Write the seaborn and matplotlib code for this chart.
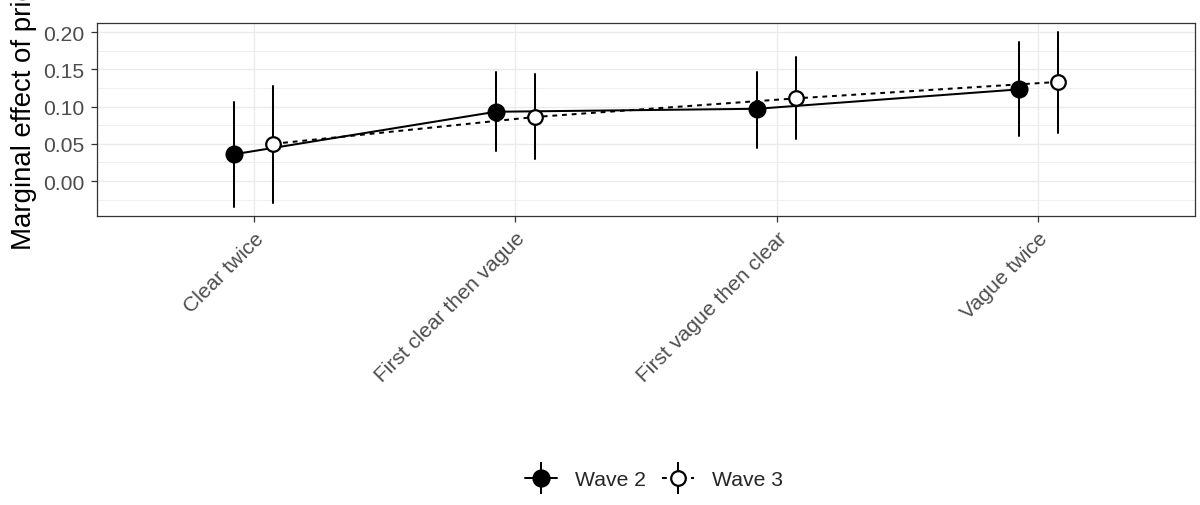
import numpy as np
import pandas as pd
import matplotlib
matplotlib.use("Agg")
import matplotlib.pyplot as plt
import seaborn as sns
from matplotlib.ticker import MultipleLocator
from matplotlib.lines import Line2D
from matplotlib.collections import LineCollection
from matplotlib.container import ErrorbarContainer
from matplotlib.legend_handler import HandlerErrorbar

# Marginal effects with 95% intervals, by treatment sequence and survey wave
categories = ["Clear twice", "First clear then vague", "First vague then clear", "Vague twice"]
waves = ["Wave 2", "Wave 3"]

wave2_est = [0.036, 0.093, 0.097, 0.123]
wave2_lo = [-0.035, 0.040, 0.045, 0.060]
wave2_hi = [0.106, 0.147, 0.147, 0.186]

wave3_est = [0.050, 0.086, 0.111, 0.133]
wave3_lo = [-0.029, 0.030, 0.056, 0.065]
wave3_hi = [0.128, 0.144, 0.166, 0.200]

y_ticks = [0.00, 0.05, 0.10, 0.15, 0.20]

# Long table: lower bound, estimate and upper bound per cell, so the
# median gives the point and the range gives the interval.
rows = []
for wave, est, lo, hi in [("Wave 2", wave2_est, wave2_lo, wave2_hi),
                          ("Wave 3", wave3_est, wave3_lo, wave3_hi)]:
    for cat, e, l, h in zip(categories, est, lo, hi):
        for v in (l, e, h):
            rows.append({"sequence": cat, "wave": wave, "effect": v})
df = pd.DataFrame(rows)

sns.set_theme(style="white")
plt.rcParams["font.family"] = ["Liberation Sans", "DejaVu Sans"]

fig, ax = plt.subplots(figsize=(12, 5.06), dpi=100)
fig.subplots_adjust(left=97 / 1200, right=1195 / 1200, top=1 - 24 / 506, bottom=1 - 216.5 / 506)

lw = 1.45
sns.pointplot(
    data=df, x="sequence", y="effect", hue="wave",
    order=categories, hue_order=waves,
    estimator="median", errorbar=lambda v: (v.min(), v.max()),
    palette=["black", "black"], markers=["o", "o"], linestyles=["-", "--"],
    dodge=0.15, capsize=0, err_kws={"linewidth": lw},
    markersize=11.5, linewidth=lw, legend=False, ax=ax,
)

# Style the point/line artists: solid filled for wave 2, dashed open for wave 3
main_lines = [ln for ln in ax.lines if len(ln.get_xdata()) == len(categories)]
for ln in main_lines:
    ln.set_zorder(4)
main_lines[0].set_markerfacecolor("black")
main_lines[0].set_markeredgewidth(1.5)
main_lines[1].set_markerfacecolor("white")
main_lines[1].set_markeredgecolor("black")
main_lines[1].set_markeredgewidth(1.6)
main_lines[1].set_markersize(10.5)
main_lines[1].set_dashes((2.4, 2.4))

ax.set_xlim(-0.6, len(categories) - 0.4)
ax.set_ylim(-0.0462, 0.2121)
ax.set_yticks(y_ticks)
ax.set_yticklabels([f"{t:.2f}" for t in y_ticks])
ax.yaxis.set_minor_locator(MultipleLocator(0.025))

grid_col = "#EBEBEB"
ax.grid(which="major", axis="both", color=grid_col, linewidth=1.0)
ax.grid(which="minor", axis="y", color=grid_col, linewidth=0.55)
ax.set_axisbelow(True)
for sp in ax.spines.values():
    sp.set_color("#333333")
    sp.set_linewidth(0.9)

tick_fs = 15.2
ax.tick_params(which="major", direction="out", length=4.3, width=0.9, color="#333333",
               labelsize=tick_fs, labelcolor="#4D4D4D", pad=5.0, left=True, bottom=True)
ax.tick_params(which="minor", length=0)

for lab in ax.get_xticklabels():
    lab.set_rotation(45)
    lab.set_ha("right")
    lab.set_va("top")
    lab.set_rotation_mode("anchor")

ax.set_xlabel("")
ax.set_ylabel("Marginal effect of price", fontsize=19.9, color="black")
ax.yaxis.set_label_coords(-0.055, 0.551)

# Legend keys combine the point, the connecting line and the interval bar
def key(ls, face):
    ln = Line2D([], [], color="black", linestyle=ls, linewidth=lw, marker="o",
                markersize=11.5 if face == "black" else 10.5,
                markerfacecolor=face, markeredgecolor="black", markeredgewidth=1.6)
    if ls == "--":
        ln.set_dashes((2.4, 2.4))
    bars = LineCollection([], colors="black", linewidths=lw)
    return ErrorbarContainer((ln, (), (bars,)), has_xerr=False, has_yerr=True)

handles = [key("-", "black"), key("--", "white")]
fig.legend(handles, waves, loc="center", bbox_to_anchor=(654 / 1200, 1 - 481 / 506),
           ncol=2, frameon=False, fontsize=tick_fs, numpoints=1,
           handlelength=1.5, handletextpad=0.85, columnspacing=0.75,
           handler_map={ErrorbarContainer: HandlerErrorbar(yerr_size=0.75)})

fig.savefig("out.png", dpi=100)
